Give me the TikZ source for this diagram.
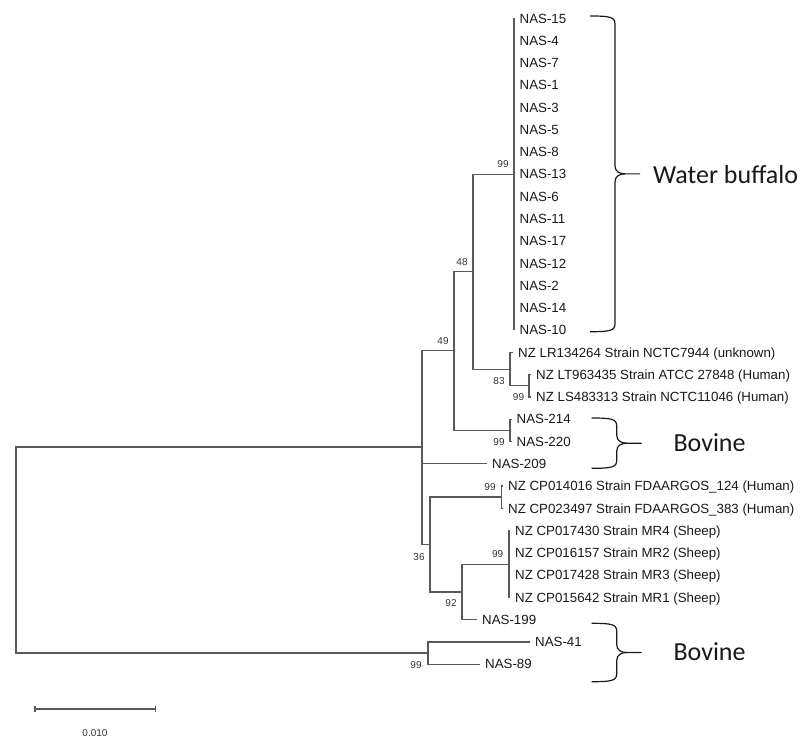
\documentclass[tikz,border=0pt]{standalone}
\usepackage{fontspec}
\usepackage{tikz}
\usetikzlibrary{positioning}
\newfontfamily\arialf{Liberation Sans}
\newfontfamily\calibf{Carlito}
% curly bracket: x of the ends, top y, bottom y
\newcommand{\hostbrace}[3]{%
  \draw[brc] (#1,#2) .. controls ({#1+20},#2) and ({#1+25},{#2+1}) .. ({#1+25},{#2+8})
    -- ({#1+25},{(#2+#3)/2-8}) .. controls ({#1+25},{(#2+#3)/2-2}) and ({#1+30},{(#2+#3)/2}) .. ({#1+35},{(#2+#3)/2})
    -- ({#1+50},{(#2+#3)/2});
  \draw[brc] ({#1+35},{(#2+#3)/2}) .. controls ({#1+30},{(#2+#3)/2}) and ({#1+25},{(#2+#3)/2+2}) .. ({#1+25},{(#2+#3)/2+8})
    -- ({#1+25},{#3-8}) .. controls ({#1+25},{#3-1}) and ({#1+20},#3) .. (#1,#3);
}

\begin{document}
\begin{tikzpicture}[x=1pt, y=-1pt,
  br/.style={draw=gray!70!black, line width=1.3pt},
  brc/.style={draw=black!90, line width=1.2pt},
  leaf/.style={anchor=west, inner sep=0pt, text height=9.5pt, text depth=0pt, text=black!90, font=\arialf\fontsize{13.3}{15}\selectfont},
  boot/.style={inner sep=0pt, text=black!80, font=\arialf\fontsize{10}{12}\selectfont},
  host/.style={anchor=base west, inner sep=0pt, text=black!90, font=\calibf\fontsize{26}{30}\selectfont}]
\useasboundingbox (0,0) rectangle (803,737);

% internal nodes
\coordinate (r) at (16,550);
\coordinate (a) at (422,447);
\coordinate (b49) at (454,350.8);
\coordinate (b48) at (473,271.7);
\coordinate (wb) at (514,174.2);
\coordinate (n83) at (510,369.5);
\coordinate (nlt) at (529,385.8);
\coordinate (n214) at (510,430.3);
\coordinate (c) at (430,544.5);
\coordinate (ncp) at (501.7,497.1);
\coordinate (n92) at (462,592);
\coordinate (nmr) at (509,564.2);
\coordinate (n41) at (428,653);

% water buffalo leaves
\foreach \s [count=\i from 0] in {15,4,7,1,3,5,8,13,6,11,17,12,2,14,10} {
  \coordinate (w\i) at (514,{18.3+22.27*\i});
  \node[leaf, right=5.5pt of w\i] (lw\i) {NAS-\s};
  \draw[br] (wb) |- (w\i);
}

% other leaves
\coordinate (lr) at (513,352.4);
\coordinate (lt) at (531,374.6);
\coordinate (ls) at (531,396.9);
\coordinate (e214) at (511.5,419.2);
\coordinate (e220) at (511.5,441.4);
\coordinate (e209) at (487,463.7);
\coordinate (cp1) at (503,486);
\coordinate (cp2) at (503,508.3);
\coordinate (mr4) at (510,530.5);
\coordinate (mr2) at (510,552.8);
\coordinate (mr3) at (510,575.1);
\coordinate (mr1) at (510,597.3);
\coordinate (e199) at (477,619.6);
\coordinate (e41) at (530,641.9);
\coordinate (e89) at (480,664.2);

\node[leaf, right=5pt of lr] (tlr) {NZ LR134264 Strain NCTC7944 (unknown)};
\node[leaf, right=5pt of lt] (tlt) {NZ LT963435 Strain ATCC 27848 (Human)};
\node[leaf, right=5pt of ls] (tls) {NZ LS483313 Strain NCTC11046 (Human)};
\node[leaf, right=5pt of e214] (t214) {NAS-214};
\node[leaf, right=5pt of e220] (t220) {NAS-220};
\node[leaf, right=5pt of e209] (t209) {NAS-209};
\node[leaf, right=5pt of cp1] (tcp1) {NZ CP014016 Strain FDAARGOS\_124 (Human)};
\node[leaf, right=5pt of cp2] (tcp2) {NZ CP023497 Strain FDAARGOS\_383 (Human)};
\node[leaf, right=5pt of mr4] (tmr4) {NZ CP017430 Strain MR4 (Sheep)};
\node[leaf, right=5pt of mr2] (tmr2) {NZ CP016157 Strain MR2 (Sheep)};
\node[leaf, right=5pt of mr3] (tmr3) {NZ CP017428 Strain MR3 (Sheep)};
\node[leaf, right=5pt of mr1] (tmr1) {NZ CP015642 Strain MR1 (Sheep)};
\node[leaf, right=5pt of e199] (t199) {NAS-199};
\node[leaf, right=5pt of e41] (t41) {NAS-41};
\node[leaf, right=5pt of e89] (t89) {NAS-89};

% branches
\draw[br] (r) |- (a) (r) |- (n41);
\draw[br] (a) |- (b49) (a) |- (e209) (a) |- (c);
\draw[br] (b49) |- (b48) (b49) |- (n214);
\draw[br] (b48) |- (wb) (b48) |- (n83);
\draw[br] (n83) |- (lr) (n83) |- (nlt);
\draw[br] (nlt) |- (lt) (nlt) |- (ls);
\draw[br] (n214) |- (e214) (n214) |- (e220);
\draw[br] (c) |- (ncp) (c) |- (n92);
\draw[br] (ncp) |- (cp1) (ncp) |- (cp2);
\draw[br] (n92) |- (nmr) (n92) |- (e199);
\draw[br] (nmr) |- (mr4) (nmr) |- (mr2) (nmr) |- (mr3) (nmr) |- (mr1);
\draw[br] (n41) |- (e41) (n41) |- (e89);

% bootstrap values
\node[boot] (bwb) at (503,164) {99};
\node[boot] (bb48) at (462,262) {48};
\node[boot] (bb49) at (443,341) {49};
\node[boot] (b83) at (499,381) {83};
\node[boot] (blt) at (518.5,397) {99};
\node[boot] (b214) at (499,441.7) {99};
\node[boot] (bcp) at (490,487) {99};
\node[boot] (bmr) at (497.7,554.3) {99};
\node[boot] (bc) at (419,556.7) {36};
\node[boot] (b92) at (451,603.3) {92};
\node[boot] (b41) at (416,665) {99};

% scale bar
\coordinate (s0) at (35,709);
\coordinate (s1) at (155.7,709);
\draw[br] (s0) -- (s1);
\draw[br] ([yshift=3pt]s0) -- ([yshift=-3pt]s0);
\draw[br] ([yshift=3pt]s1) -- ([yshift=-3pt]s1);
\node[boot] (sl) at (95,733) {0.010};

% hosts
\hostbrace{590}{16}{331.7}
\hostbrace{591.7}{418}{468.3}
\hostbrace{591.7}{623.3}{681.7}
\node[host] (hwb) at (653,183.3) {Water buffalo};
\node[host] (hbv1) at (673.3,451.7) {Bovine};
\node[host] (hbv2) at (673.3,660.5) {Bovine};
\end{tikzpicture}
\end{document}
